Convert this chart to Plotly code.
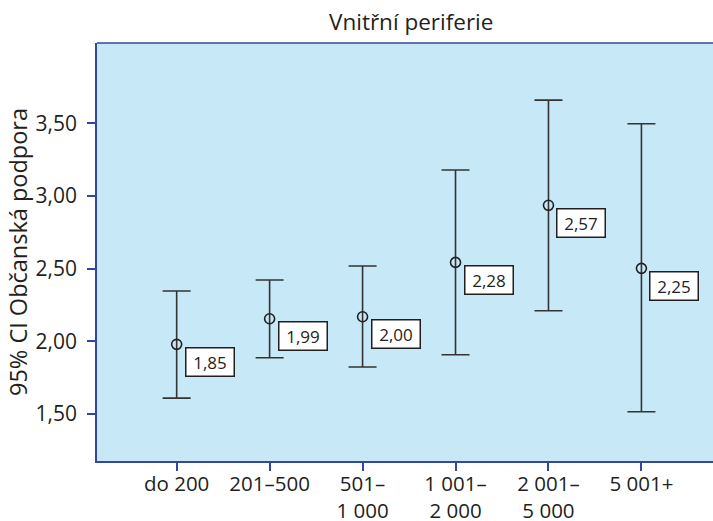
import plotly.graph_objects as go

categories = ["do 200", "201–500", "501–1 000", "1 001–2 000", "2 001–5 000", "5 001+"]
tick_labels = ["do 200", "201–500", "501–<br>1 000", "1 001–<br>2 000", "2 001–<br>5 000", "5 001+"]
means = [1.979, 2.155, 2.169, 2.543, 2.936, 2.502]
ci_upper = [2.346, 2.422, 2.518, 3.179, 3.660, 3.497]
ci_lower = [1.609, 1.887, 1.823, 1.907, 2.210, 1.515]
box_labels = ["1,85", "1,99", "2,00", "2,28", "2,57", "2,25"]
y_ticks = [1.5, 2.0, 2.5, 3.0, 3.5]

FONT = "Open Sans"
TXT = "#231f20"
AX = "#34479a"

err_plus = [u - m for u, m in zip(ci_upper, means)]
err_minus = [m - l for m, l in zip(means, ci_lower)]

fig = go.Figure()
fig.add_trace(go.Scatter(
    x=categories, y=means, mode="markers",
    marker=dict(symbol="circle-open", size=10, color="#231f20", line=dict(width=1.6, color="#231f20")),
    error_y=dict(type="data", symmetric=False, array=err_plus, arrayminus=err_minus,
                 color="#333333", thickness=1.6, width=14),
    showlegend=False, hoverinfo="skip",
))

for c, m, t in zip(categories, means, box_labels):
    fig.add_annotation(
        x=c, y=m, xref="x", yref="y", text=t, showarrow=False,
        xanchor="center", yanchor="middle", xshift=33, yshift=-17.5,
        font=dict(family=FONT, size=17, color=TXT),
        bgcolor="white", bordercolor="#231f20", borderwidth=1.5, borderpad=2,
        width=43, height=23,
    )

fig.add_annotation(
    x=-79 / 616, y=0.5, xref="paper", yref="paper", text="95% CI Občanská podpora",
    showarrow=False, textangle=-90, xanchor="center", yanchor="middle",
    font=dict(family=FONT, size=23.5, color=TXT),
)
fig.add_annotation(
    x=(411 - 97) / 616, y=(461 - 22) / 418, xref="paper", yref="paper", text="Vnitřní periferie",
    showarrow=False, xanchor="center", yanchor="middle",
    font=dict(family=FONT, size=22.5, color=TXT),
)

fig.update_layout(
    width=713, height=521,
    margin=dict(l=97, r=0, t=43, b=60),
    paper_bgcolor="white", plot_bgcolor="#c6e8f7",
    separators=", ",
    xaxis=dict(
        type="category", categoryorder="array", categoryarray=categories,
        range=[-0.857, 5.77], tickvals=categories, ticktext=tick_labels,
        showgrid=False, zeroline=False, showline=True, linecolor=AX, linewidth=1.5,
        ticks="outside", ticklen=8, tickcolor=AX, tickwidth=1.5, automargin=False,
        tickfont=dict(family=FONT, size=20.5, color=TXT), ticklabelstandoff=-4,
    ),
    yaxis=dict(
        range=[1.176, 4.053], tickvals=y_ticks, tickformat=".2f",
        showgrid=False, zeroline=False, showline=True, linecolor=AX, linewidth=1.5,
        ticks="outside", ticklen=8, tickcolor=AX, tickwidth=1.5, automargin=False,
        tickfont=dict(family=FONT, size=21, color=TXT), ticklabelstandoff=6,
    ),
    shapes=[dict(type="line", xref="paper", yref="paper", x0=0, x1=1, y0=1, y1=1,
                 line=dict(color=AX, width=1.5))],
)

fig.write_html("out.html", config={"displayModeBar": False},
               post_script="document.body.style.margin='0';document.body.style.overflow='hidden';")
